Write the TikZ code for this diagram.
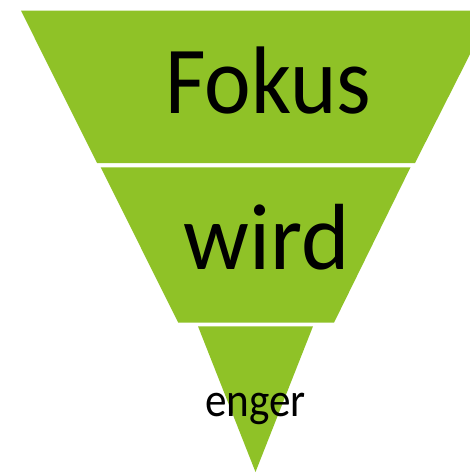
\documentclass[tikz,border=0pt]{standalone}
\usepackage{fontspec}
\setmainfont{Carlito}
\definecolor{funnelgreen}{RGB}{143,194,39}
\begin{document}
\begin{tikzpicture}[x=1pt,y=-1pt,
  seg/.style={fill=funnelgreen,draw=none},
  lbl/.style={anchor=base,inner sep=0pt,text=black}]
\clip (0,0) rectangle (470,473);
\fill[white] (0,0) rectangle (470,473);
\path[seg] (21,10.7) -- (492,10.7) -- (415,163) -- (97,163) -- cycle;
\path[seg] (100.7,167.3) -- (410.5,167.3) -- (334,322.7) -- (178.3,322.7) -- cycle;
\path[seg] (198,326.3) -- (313,326.3) -- (255.5,472) -- cycle;
\node[lbl,xscale=0.92,font=\fontsize{96}{96}\selectfont] (fokus) at (268.5,113.3) {Fokus};
\node[lbl,xscale=0.98,font=\fontsize{94}{94}\selectfont] (wird) at (267,269.3) {wird};
\node[lbl,xscale=0.9,font=\fontsize{48}{48}\selectfont] (enger) at (255.5,416) {enger};
\end{tikzpicture}
\end{document}
